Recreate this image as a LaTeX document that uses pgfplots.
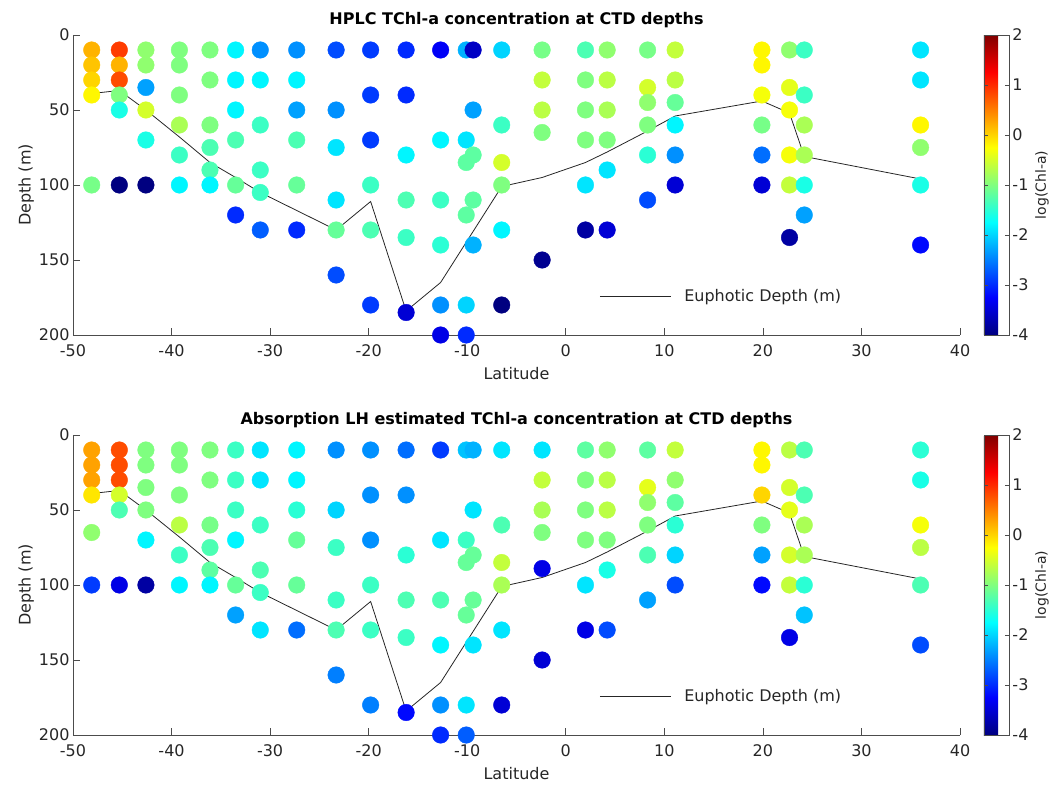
\documentclass[border=0pt]{standalone}
\usepackage{pgfplots}
\usepackage{pgfplotstable}
\pgfplotsset{compat=1.18}
\usepackage{fontspec}
\setmainfont{DejaVu Sans}

\pgfplotstableread{
x y c
-48.1 10 0.2
-48.1 20 0.1
-48.1 30 0.0
-48.1 40 -0.2
-48.1 100 -1.05
-45.3 10 0.9
-45.3 20 0.2
-45.3 30 0.8
-45.3 40 -1.0
-45.3 50 -1.6
-45.3 100 -4.0
-42.6 10 -0.9
-42.6 20 -0.9
-42.6 35 -2.3
-42.6 50 -0.5
-42.6 70 -1.6
-42.6 100 -4.0
-39.2 10 -1.0
-39.2 20 -1.0
-39.2 40 -1.0
-39.2 60 -0.75
-39.2 80 -1.4
-39.2 100 -1.8
-36.1 10 -1.0
-36.1 30 -1.0
-36.1 60 -1.0
-36.1 75 -1.3
-36.1 90 -1.3
-36.1 100 -1.8
-33.5 10 -1.8
-33.5 30 -1.8
-33.5 50 -1.8
-33.5 70 -1.3
-33.5 100 -1.15
-33.5 120 -3.0
-31.0 10 -2.4
-31.0 30 -1.8
-31.0 60 -1.4
-31.0 90 -1.4
-31.0 105 -1.4
-31.0 130 -2.7
-27.3 10 -2.4
-27.3 30 -1.8
-27.3 50 -2.3
-27.3 70 -1.3
-27.3 100 -1.15
-27.3 130 -3.0
-23.3 10 -2.8
-23.3 50 -2.4
-23.3 75 -1.9
-23.3 110 -1.9
-23.3 130 -1.15
-23.3 160 -2.8
-19.8 10 -2.9
-19.8 40 -2.9
-19.8 70 -2.9
-19.8 100 -1.4
-19.8 130 -1.3
-19.8 180 -2.9
-16.2 10 -3.0
-16.2 40 -3.0
-16.2 80 -1.8
-16.2 110 -1.3
-16.2 135 -1.4
-16.2 185 -3.5
-12.7 10 -3.3
-12.7 70 -1.8
-12.7 110 -1.4
-12.7 140 -1.5
-12.7 180 -2.4
-12.7 200 -3.4
-10.1 10 -2.2
-10.1 70 -1.9
-10.1 85 -1.2
-10.1 120 -1.2
-10.1 180 -2.0
-10.1 200 -3.0
-9.4 10 -3.6
-9.4 50 -2.3
-9.4 80 -1.2
-9.4 110 -1.2
-9.4 140 -2.2
-6.5 10 -2.0
-6.5 60 -1.4
-6.5 85 -0.5
-6.5 100 -1.0
-6.5 130 -1.8
-6.5 180 -4.0
-2.4 10 -1.05
-2.4 30 -0.6
-2.4 50 -0.65
-2.4 65 -1.0
-2.4 150 -3.9
2.0 10 -1.3
2.0 30 -1.0
2.0 50 -1.0
2.0 70 -1.0
2.0 100 -1.9
2.0 130 -3.8
4.2 10 -0.9
4.2 30 -0.65
4.2 50 -0.75
4.2 70 -1.0
4.2 90 -1.9
4.2 130 -3.5
8.3 10 -1.05
8.3 35 -0.5
8.3 45 -0.9
8.3 60 -1.0
8.3 80 -1.5
8.3 110 -2.8
11.1 10 -0.6
11.1 30 -0.65
11.1 45 -1.15
11.1 60 -1.8
11.1 80 -2.4
11.1 100 -3.5
19.9 10 -0.2
19.9 20 -0.2
19.9 40 -0.3
19.9 60 -1.05
19.9 80 -2.6
19.9 100 -3.5
22.7 10 -0.9
22.7 35 -0.4
22.7 50 -0.3
22.7 80 -0.3
22.7 100 -0.6
22.7 135 -3.8
24.2 10 -1.4
24.2 40 -1.4
24.2 60 -0.75
24.2 80 -0.75
24.2 100 -1.6
24.2 120 -2.3
36.0 10 -1.9
36.0 30 -1.9
36.0 60 -0.2
36.0 75 -0.9
36.0 100 -1.6
36.0 140 -3.2
}\hplc

\pgfplotstableread{
x y c
-48.1 10 0.3
-48.1 20 0.3
-48.1 30 0.3
-48.1 40 -0.1
-48.1 65 -0.9
-48.1 100 -2.9
-45.3 10 0.8
-45.3 20 0.8
-45.3 30 0.8
-45.3 40 -0.5
-45.3 50 -1.3
-45.3 100 -3.4
-42.6 10 -1.0
-42.6 20 -1.0
-42.6 35 -1.0
-42.6 50 -1.0
-42.6 70 -1.8
-42.6 100 -3.8
-39.2 10 -1.0
-39.2 20 -1.0
-39.2 40 -1.0
-39.2 60 -0.65
-39.2 80 -1.4
-39.2 100 -1.8
-36.1 10 -1.0
-36.1 30 -1.0
-36.1 60 -1.05
-36.1 75 -1.3
-36.1 90 -1.2
-36.1 100 -1.8
-33.5 10 -1.4
-33.5 30 -1.4
-33.5 50 -1.4
-33.5 70 -1.8
-33.5 100 -1.15
-33.5 120 -2.3
-31.0 10 -1.9
-31.0 30 -1.9
-31.0 60 -1.4
-31.0 90 -1.3
-31.0 105 -1.4
-31.0 130 -1.9
-27.3 10 -1.8
-27.3 30 -1.8
-27.3 50 -1.5
-27.3 70 -1.15
-27.3 100 -1.15
-27.3 130 -2.6
-23.3 10 -2.4
-23.3 50 -2.0
-23.3 75 -1.4
-23.3 110 -1.4
-23.3 130 -1.3
-23.3 160 -2.5
-19.8 10 -2.4
-19.8 40 -2.4
-19.8 70 -2.4
-19.8 100 -1.4
-19.8 130 -1.4
-19.8 180 -2.5
-16.2 10 -2.6
-16.2 40 -2.4
-16.2 80 -1.5
-16.2 110 -1.3
-16.2 135 -1.4
-16.2 185 -3.2
-12.7 10 -2.9
-12.7 70 -1.9
-12.7 110 -1.3
-12.7 140 -1.8
-12.7 180 -2.4
-12.7 200 -3.0
-10.1 10 -2.1
-10.1 70 -1.4
-10.1 85 -1.15
-10.1 120 -1.15
-10.1 180 -1.9
-10.1 200 -2.7
-9.4 10 -2.2
-9.4 50 -1.9
-9.4 80 -1.15
-9.4 110 -1.15
-9.4 140 -1.9
-6.5 10 -1.9
-6.5 60 -1.3
-6.5 85 -0.6
-6.5 100 -0.75
-6.5 130 -1.9
-6.5 180 -3.5
-2.4 10 -1.9
-2.4 30 -0.6
-2.4 50 -0.75
-2.4 65 -1.0
-2.4 89 -3.4
-2.4 150 -3.5
2.0 10 -1.2
2.0 30 -1.0
2.0 50 -1.0
2.0 70 -1.0
2.0 100 -1.9
2.0 130 -3.4
4.2 10 -0.9
4.2 30 -0.65
4.2 50 -0.65
4.2 70 -1.0
4.2 90 -1.6
4.2 130 -2.8
8.3 10 -1.2
8.3 35 -0.4
8.3 45 -0.9
8.3 60 -1.0
8.3 80 -1.3
8.3 110 -2.3
11.1 10 -0.6
11.1 30 -0.9
11.1 45 -1.2
11.1 60 -1.5
11.1 80 -2.0
11.1 100 -2.8
19.9 10 -0.2
19.9 20 -0.2
19.9 40 0.0
19.9 60 -1.0
19.9 80 -2.3
19.9 100 -3.2
22.7 10 -0.65
22.7 35 -0.5
22.7 50 -0.4
22.7 80 -0.5
22.7 100 -0.6
22.7 135 -3.4
24.2 10 -1.3
24.2 40 -1.3
24.2 60 -0.75
24.2 80 -0.75
24.2 100 -1.5
24.2 120 -2.1
36.0 10 -1.5
36.0 30 -1.6
36.0 60 -0.3
36.0 75 -0.65
36.0 100 -1.3
36.0 140 -2.8
}\absorp

\pgfplotstableread{
x y
-48.1 39
-45.3 37
-42.6 50
-39.2 68
-36.1 85
-33.5 95
-31.0 105
-27.3 117
-23.3 130
-19.8 111
-16.2 184
-12.7 165
-6.5 101
-2.4 95
2.0 85
4.2 78
8.3 64
11.1 54
19.9 44
22.7 52
24.2 81
36.0 96
}\euph

\definecolor{axgray}{gray}{0.3}
\definecolor{txtgray}{gray}{0.15}
\newcommand{\fs}{\fontsize{16}{19}\selectfont}

\pgfplotsset{
  chl/.style={
    width=887pt, height=300pt, scale only axis,
    xmin=-50, xmax=40, ymin=0, ymax=200, y dir=reverse,
    axis x line*=bottom, axis y line*=left,
    axis line style={axgray, line width=0.7pt},
    every tick/.style={axgray, line width=0.7pt},
    tick align=inside, major tick length=7pt,
    xtick={-50,-40,...,40},
    xticklabels={-50,-40,-30,-20,-10,0,10,20,30,40},
    ytick={0,50,100,150,200},
    yticklabels={0,50,100,150,200},
    tick label style={font=\fs, text=txtgray},
    xticklabel style={yshift=-6pt},
    label style={font=\fs, text=txtgray},
    xlabel={Latitude}, ylabel={Depth (m)},
    xlabel style={yshift=-4pt},
    ylabel style={yshift=-2pt},
    title style={font=\fs\bfseries, text=black, yshift=-2pt},
    colormap/jet,
    point meta min=-4, point meta max=2,
    colorbar,
    colorbar style={
      at={(1.027,1)}, anchor=north west,
      width=25pt, scale only axis,
      ytick={-4,-3,-2,-1,0,1,2},
      yticklabels={-4,-3,-2,-1,0,1,2},
      tick label style={font=\fs, text=txtgray},
      xticklabel style={yshift=0pt},
      ylabel={log(Chl-a)},
      ylabel style={font=\fontsize{14}{16}\selectfont, text=txtgray},
      axis line style={axgray, line width=0.7pt},
      tick align=inside, major tick length=4pt,
      every tick/.style={axgray},
    },
    legend style={at={(0.59,0.13)}, anchor=west, draw=none, fill=none,
      font=\fs, text=txtgray},
    legend image code/.code={\draw[#1] (0pt,0pt) -- (71pt,0pt); \path (82pt,0pt);},
    legend cell align=left,
  },
  dots/.style={scatter, only marks, mark=*, mark size=8.3pt,
    point meta=explicit,
    scatter/use mapped color={draw=mapped color, fill=mapped color},
    forget plot},
  eline/.style={black!85, line width=0.8pt, mark=none},
}

\begin{document}
\begin{tikzpicture}
\useasboundingbox (0,0) rectangle (1057pt,787pt);
\begin{axis}[chl, at={(73pt,452pt)}, anchor=south west,
  title={HPLC TChl-a concentration at CTD depths}]
  \addplot[dots] table[x=x, y=y, meta=c] {\hplc};
  \addplot[eline] table[x=x, y=y] {\euph};
  \addlegendentry{Euphotic Depth (m)}
\end{axis}
\begin{axis}[chl, at={(73pt,52pt)}, anchor=south west,
  title={Absorption LH estimated TChl-a concentration at CTD depths}]
  \addplot[dots] table[x=x, y=y, meta=c] {\absorp};
  \addplot[eline] table[x=x, y=y] {\euph};
  \addlegendentry{Euphotic Depth (m)}
\end{axis}
\end{tikzpicture}
\end{document}
